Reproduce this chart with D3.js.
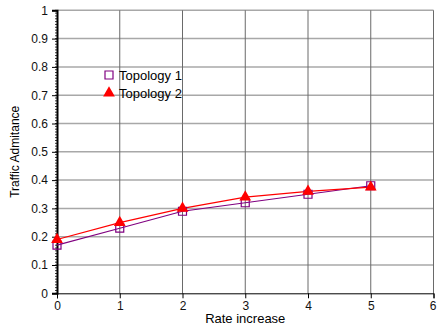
<!DOCTYPE html>
<html lang="en">
<head>
	<meta charset="UTF-8">
	<script src="https://d3js.org/d3.v7.min.js"></script>
	<title>Traffic Admitance</title>
	<style>
		body {
			margin: 0;
			background: white;
		}
		svg {
			display: block;
			font-family: "Liberation Sans", Arial, sans-serif;
		}
	</style>
</head>
<body>
	<script>
		// values
		const rates = [0, 1, 2, 3, 4, 5];
		const topology1 = [0.17, 0.23, 0.29, 0.32, 0.35, 0.38];
		const topology2 = [0.19, 0.25, 0.30, 0.34, 0.36, 0.375];
		const seriesNames = ["Topology 1", "Topology 2"];
		const xTicks = [0, 1, 2, 3, 4, 5, 6];
		const yTicks = [0, 0.1, 0.2, 0.3, 0.4, 0.5, 0.6, 0.7, 0.8, 0.9, 1];

		const width = 438, height = 323;
		const margin = { left: 57, right: 4.5, top: 10.3, bottom: 29.7 };

		const svg = d3.select("body").append("svg")
			.attr("width", width)
			.attr("height", height);

		const x = d3.scaleLinear().domain([0, 6]).range([margin.left, width - margin.right]);
		const y = d3.scaleLinear().domain([0, 1]).range([height - margin.bottom, margin.top]);

		// horizontal grid (light)
		svg.append("g")
			.selectAll("line")
			.data(yTicks.slice(1))
			.enter().append("line")
			.attr("x1", x(0)).attr("x2", x(6))
			.attr("y1", d => y(d)).attr("y2", d => y(d))
			.attr("stroke", "#a8a8a8")
			.attr("stroke-width", 1.5);

		// vertical grid (dark)
		svg.append("g")
			.selectAll("line")
			.data(xTicks.slice(1))
			.enter().append("line")
			.attr("x1", d => x(d)).attr("x2", d => x(d))
			.attr("y1", y(0)).attr("y2", y(1))
			.attr("stroke", "#6a6a6a")
			.attr("stroke-width", 1);

		// minor ticks on the y axis
		svg.append("g")
			.selectAll("line")
			.data(d3.range(0, 101).map(i => i / 100))
			.enter().append("line")
			.attr("x1", x(0) - 2).attr("x2", x(0))
			.attr("y1", d => y(d)).attr("y2", d => y(d))
			.attr("stroke", "#000")
			.attr("stroke-width", 0.8);

		// y axis
		const yAxis = svg.append("g")
			.attr("transform", `translate(${x(0)},0)`)
			.call(d3.axisLeft(y).tickValues(yTicks).tickFormat(d3.format("")).tickSizeOuter(0).tickSize(5).tickPadding(4));
		yAxis.select(".domain").attr("stroke-width", 2);
		yAxis.selectAll("text").attr("font-size", 12).attr("fill", "#111");

		// x axis
		const xAxis = svg.append("g")
			.attr("transform", `translate(0,${y(0)})`)
			.call(d3.axisBottom(x).tickValues(xTicks).tickFormat(d3.format("d")).tickSizeOuter(0).tickSize(5).tickPadding(3));
		xAxis.select(".domain").attr("stroke-width", 1);
		xAxis.selectAll("text").attr("font-size", 12).attr("fill", "#111");
		xAxis.selectAll(".tick:last-of-type text").attr("dx", -1);

		// axis titles
		svg.append("text")
			.attr("transform", `translate(19,${(y(0) + y(1)) / 2}) rotate(-90)`)
			.attr("text-anchor", "middle")
			.attr("font-size", 12)
			.text("Traffic Admitance");

		svg.append("text")
			.attr("x", (x(0) + x(6)) / 2)
			.attr("y", 323)
			.attr("text-anchor", "middle")
			.attr("font-size", 13)
			.text("Rate increase");

		const line = d3.line()
			.x((d, i) => x(rates[i]))
			.y(d => y(d));

		// Topology 1: purple open squares
		svg.append("path")
			.datum(topology1)
			.attr("d", line)
			.attr("fill", "none")
			.attr("stroke", "#800080")
			.attr("stroke-width", 1.2);

		// Topology 2: red filled triangles
		svg.append("path")
			.datum(topology2)
			.attr("d", line)
			.attr("fill", "none")
			.attr("stroke", "#ff0000")
			.attr("stroke-width", 1.2);

		const square = d3.symbol().type(d3.symbolSquare).size(64);
		const triangle = d3.symbol().type(d3.symbolTriangle).size(60);

		svg.append("g")
			.selectAll("path")
			.data(topology1)
			.enter().append("path")
			.attr("d", square)
			.attr("transform", (d, i) => `translate(${x(rates[i])},${y(d)})`)
			.attr("fill", "none")
			.attr("stroke", "#800080")
			.attr("stroke-width", 1.2);

		svg.append("g")
			.selectAll("path")
			.data(topology2)
			.enter().append("path")
			.attr("d", triangle)
			.attr("transform", (d, i) => `translate(${x(rates[i])},${y(d)})`)
			.attr("fill", "#ff0000");

		// legend
		const legend = svg.append("g");
		const legendY = [75, 93];
		seriesNames.forEach((name, i) => {
			legend.append("path")
				.attr("d", i === 0 ? square : triangle)
				.attr("transform", `translate(109,${legendY[i]})`)
				.attr("fill", i === 0 ? "none" : "#ff0000")
				.attr("stroke", i === 0 ? "#800080" : "none")
				.attr("stroke-width", 1.2);
			legend.append("text")
				.attr("x", 119)
				.attr("y", legendY[i] + 5)
				.attr("font-size", 13)
				.attr("fill", "#000")
				.text(name);
		});
	</script>
</body>
</html>
